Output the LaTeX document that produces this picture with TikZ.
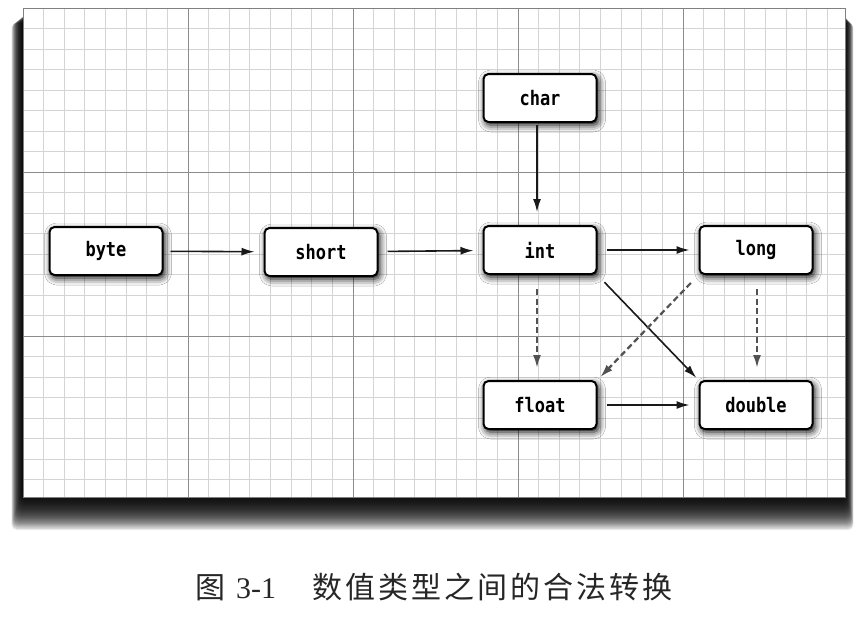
\documentclass[tikz,border=0pt]{standalone}
\usepackage{fontspec}
\setmainfont{Liberation Serif}
\newfontfamily\cjk{Noto Sans CJK SC}
\newfontfamily\monof[FakeStretch=0.85]{DejaVu Sans Mono}
\usetikzlibrary{arrows.meta,shadows.blur}
\newcommand{\cg}[1]{{\cjk #1}\hspace{3pt}}
\begin{document}
\begin{tikzpicture}[x=1pt,y=-1pt,
 typebox/.style={draw=black, line width=2pt, rounded corners=5pt, fill=white,
   minimum width=113pt, minimum height=48pt, inner sep=0pt,
   font=\monof\bfseries\fontsize{20}{20}\selectfont,
   blur shadow={shadow xshift=2pt, shadow yshift=-3pt, shadow blur radius=7pt, shadow opacity=100}},
 conv/.style={-{Latex[length=13pt,width=8pt]}, line width=1.6pt, draw=black!90},
 lossy/.style={conv, dash pattern=on 6pt off 3.5pt, line width=2.2pt, draw=black!68},
 minorline/.style={draw=black!17, line width=0.9pt},
 majorline/.style={draw=black!45, line width=1pt}
]
\useasboundingbox (0,0) rectangle (862,616);
\fill[white] (0,0) rectangle (862,616);
% panel shadow
\foreach \k in {1,...,30} {
  \fill[black, opacity=0.085, rounded corners=5pt] ({23-0.38*\k},{14+0.3*\k}) rectangle ({845+0.28*\k},{494+1.2*\k});
}
% panel
\fill[white] (23,8) rectangle (845,497);
% grid
\foreach \i in {1,...,39} {
  \draw[minorline] ({23+\i*20.625},8) -- ({23+\i*20.625},497);
}
\foreach \j in {1,...,23} {
  \draw[minorline] (23,{8+\j*20.5}) -- (845,{8+\j*20.5});
}
\foreach \i in {1,...,4} {
  \draw[majorline] ({23+\i*165},8) -- ({23+\i*165},497);
}
\foreach \j in {1,2} {
  \draw[majorline] (23,{8+\j*164}) -- (845,{8+\j*164});
}
\draw[draw=black!50, line width=1pt] (23,8) rectangle (845,497);
% nodes
\node[typebox] (byte) at (106,251) {byte};
\node[typebox] (short) at (321,252) {short};
\node[typebox] (int) at (540,250) {int};
\node[typebox] (long) at (756,250) {long};
\node[typebox] (char) at (540,98) {char};
\node[typebox] (float) at (540,405) {float};
\node[typebox] (double) at (756,405) {double};
% arrows
\draw[conv, shorten <=7pt, shorten >=9pt] (byte) -- (short);
\draw[conv, shorten <=9pt, shorten >=9pt] (short) -- (int);
\draw[conv, shorten <=9pt, shorten >=9pt] (int) -- (long);
\draw[conv, shorten <=9pt, shorten >=9pt] (float) -- (double);
\draw[conv, shorten <=2pt, shorten >=13pt] ([xshift=-3pt]char.south) -- ([xshift=-3pt]int.north);
\draw[conv, shorten <=10pt, shorten >=3pt] (int.south east) -- (double.north west);
\draw[lossy, shorten <=14pt, shorten >=12pt] ([xshift=-3pt]int.south) -- ([xshift=-3pt]float.north);
\draw[lossy, shorten <=14pt, shorten >=12pt] ([xshift=1pt]long.south) -- ([xshift=1pt]double.north);
\draw[lossy, shorten <=11pt, shorten >=4pt] (long.south west) -- (float.north east);
% caption
\node[anchor=west, inner sep=0pt, font=\fontsize{30}{30}\selectfont, text=black!85] (cap) at (195,587)
  {{\cjk 图}\hspace{11pt}3-1\hspace{36pt}\cg{数}\cg{值}\cg{类}\cg{型}\cg{之}\cg{间}\cg{的}\cg{合}\cg{法}{\cjk 转}\hspace{3pt}{\cjk 换}};
\end{tikzpicture}
\end{document}
